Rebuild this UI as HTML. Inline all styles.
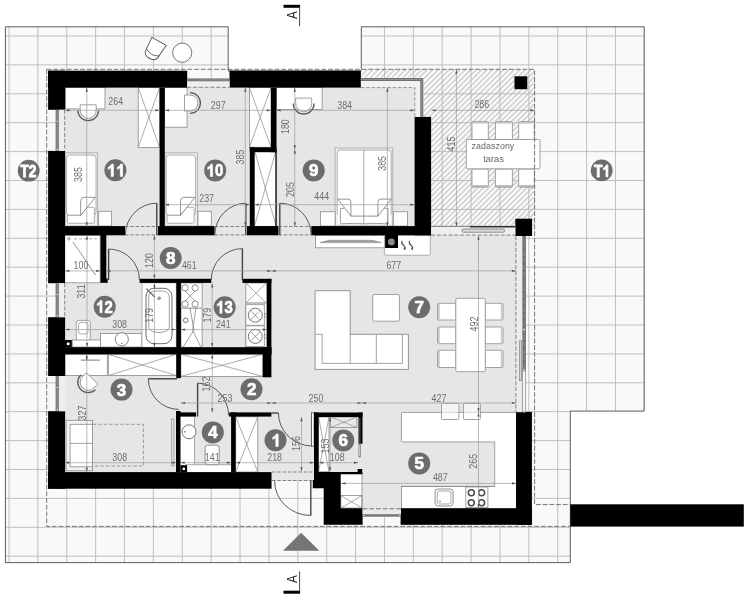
<!DOCTYPE html><html><head><meta charset="utf-8"><style>html,body{margin:0;padding:0;background:#fff}svg{display:block;filter:grayscale(1)}text{font-family:"Liberation Sans",sans-serif}</style></head><body><svg width="747" height="600" viewBox="0 0 747 600">
<defs><clipPath id="tc"><polygon points="5.4,26.8 228.2,26.8 228.2,71 361.3,71 361.3,26.8 644.2,26.8 644.2,411.1 570.3,411.1 570.3,562.6 5.4,562.6"/></clipPath>
<pattern id="hatch" width="3.85" height="3.85" patternUnits="userSpaceOnUse" patternTransform="rotate(-45)"><rect width="3.85" height="3.85" fill="#fdfdfd"/><line x1="0" y1="1" x2="3.85" y2="1" stroke="#b4b4b4" stroke-width="1.05"/></pattern>
</defs>
<polygon points="5.4,26.8 228.2,26.8 228.2,71 361.3,71 361.3,26.8 644.2,26.8 644.2,411.1 570.3,411.1 570.3,562.6 5.4,562.6" fill="#f9f9f9"/>
<g clip-path="url(#tc)">
<line x1="9.00" y1="0.00" x2="9.00" y2="600.00" stroke="#b9b9b9" stroke-width="0.9" />
<line x1="37.88" y1="0.00" x2="37.88" y2="600.00" stroke="#b9b9b9" stroke-width="0.9" />
<line x1="66.76" y1="0.00" x2="66.76" y2="600.00" stroke="#b9b9b9" stroke-width="0.9" />
<line x1="95.64" y1="0.00" x2="95.64" y2="600.00" stroke="#b9b9b9" stroke-width="0.9" />
<line x1="124.52" y1="0.00" x2="124.52" y2="600.00" stroke="#b9b9b9" stroke-width="0.9" />
<line x1="153.40" y1="0.00" x2="153.40" y2="600.00" stroke="#b9b9b9" stroke-width="0.9" />
<line x1="182.28" y1="0.00" x2="182.28" y2="600.00" stroke="#b9b9b9" stroke-width="0.9" />
<line x1="211.16" y1="0.00" x2="211.16" y2="600.00" stroke="#b9b9b9" stroke-width="0.9" />
<line x1="240.04" y1="0.00" x2="240.04" y2="600.00" stroke="#b9b9b9" stroke-width="0.9" />
<line x1="268.92" y1="0.00" x2="268.92" y2="600.00" stroke="#b9b9b9" stroke-width="0.9" />
<line x1="297.80" y1="0.00" x2="297.80" y2="600.00" stroke="#b9b9b9" stroke-width="0.9" />
<line x1="326.68" y1="0.00" x2="326.68" y2="600.00" stroke="#b9b9b9" stroke-width="0.9" />
<line x1="355.56" y1="0.00" x2="355.56" y2="600.00" stroke="#b9b9b9" stroke-width="0.9" />
<line x1="384.44" y1="0.00" x2="384.44" y2="600.00" stroke="#b9b9b9" stroke-width="0.9" />
<line x1="413.32" y1="0.00" x2="413.32" y2="600.00" stroke="#b9b9b9" stroke-width="0.9" />
<line x1="442.20" y1="0.00" x2="442.20" y2="600.00" stroke="#b9b9b9" stroke-width="0.9" />
<line x1="471.08" y1="0.00" x2="471.08" y2="600.00" stroke="#b9b9b9" stroke-width="0.9" />
<line x1="499.96" y1="0.00" x2="499.96" y2="600.00" stroke="#b9b9b9" stroke-width="0.9" />
<line x1="528.84" y1="0.00" x2="528.84" y2="600.00" stroke="#b9b9b9" stroke-width="0.9" />
<line x1="557.72" y1="0.00" x2="557.72" y2="600.00" stroke="#b9b9b9" stroke-width="0.9" />
<line x1="586.60" y1="0.00" x2="586.60" y2="600.00" stroke="#b9b9b9" stroke-width="0.9" />
<line x1="615.48" y1="0.00" x2="615.48" y2="600.00" stroke="#b9b9b9" stroke-width="0.9" />
<line x1="644.36" y1="0.00" x2="644.36" y2="600.00" stroke="#b9b9b9" stroke-width="0.9" />
<line x1="0.00" y1="7.10" x2="747.00" y2="7.10" stroke="#b9b9b9" stroke-width="0.9" />
<line x1="0.00" y1="36.00" x2="747.00" y2="36.00" stroke="#b9b9b9" stroke-width="0.9" />
<line x1="0.00" y1="64.90" x2="747.00" y2="64.90" stroke="#b9b9b9" stroke-width="0.9" />
<line x1="0.00" y1="93.80" x2="747.00" y2="93.80" stroke="#b9b9b9" stroke-width="0.9" />
<line x1="0.00" y1="122.70" x2="747.00" y2="122.70" stroke="#b9b9b9" stroke-width="0.9" />
<line x1="0.00" y1="151.60" x2="747.00" y2="151.60" stroke="#b9b9b9" stroke-width="0.9" />
<line x1="0.00" y1="180.50" x2="747.00" y2="180.50" stroke="#b9b9b9" stroke-width="0.9" />
<line x1="0.00" y1="209.40" x2="747.00" y2="209.40" stroke="#b9b9b9" stroke-width="0.9" />
<line x1="0.00" y1="238.30" x2="747.00" y2="238.30" stroke="#b9b9b9" stroke-width="0.9" />
<line x1="0.00" y1="267.20" x2="747.00" y2="267.20" stroke="#b9b9b9" stroke-width="0.9" />
<line x1="0.00" y1="296.10" x2="747.00" y2="296.10" stroke="#b9b9b9" stroke-width="0.9" />
<line x1="0.00" y1="325.00" x2="747.00" y2="325.00" stroke="#b9b9b9" stroke-width="0.9" />
<line x1="0.00" y1="353.90" x2="747.00" y2="353.90" stroke="#b9b9b9" stroke-width="0.9" />
<line x1="0.00" y1="382.80" x2="747.00" y2="382.80" stroke="#b9b9b9" stroke-width="0.9" />
<line x1="0.00" y1="411.70" x2="747.00" y2="411.70" stroke="#b9b9b9" stroke-width="0.9" />
<line x1="0.00" y1="440.60" x2="747.00" y2="440.60" stroke="#b9b9b9" stroke-width="0.9" />
<line x1="0.00" y1="469.50" x2="747.00" y2="469.50" stroke="#b9b9b9" stroke-width="0.9" />
<line x1="0.00" y1="498.40" x2="747.00" y2="498.40" stroke="#b9b9b9" stroke-width="0.9" />
<line x1="0.00" y1="527.30" x2="747.00" y2="527.30" stroke="#b9b9b9" stroke-width="0.9" />
<line x1="0.00" y1="556.20" x2="747.00" y2="556.20" stroke="#b9b9b9" stroke-width="0.9" />
<line x1="0.00" y1="585.10" x2="747.00" y2="585.10" stroke="#b9b9b9" stroke-width="0.9" />
</g>
<polygon points="5.4,26.8 228.2,26.8 228.2,71 361.3,71 361.3,26.8 644.2,26.8 644.2,411.1 570.3,411.1 570.3,562.6 5.4,562.6" fill="none" stroke="#4c4c4c" stroke-width="0.9"/>
<polygon points="361.3,69 534.8,69 534.8,225.8 431,225.8 431,117 423.7,117 423.7,77.5 361.3,77.5" fill="url(#hatch)"/>
<clipPath id="hc"><polygon points="361.3,69 534.8,69 534.8,225.8 431,225.8 431,117 423.7,117 423.7,77.5 361.3,77.5"/></clipPath><g clip-path="url(#hc)">
<line x1="355.56" y1="60.00" x2="355.56" y2="230.00" stroke="#b9b9b9" stroke-width="0.9" />
<line x1="384.44" y1="60.00" x2="384.44" y2="230.00" stroke="#b9b9b9" stroke-width="0.9" />
<line x1="413.32" y1="60.00" x2="413.32" y2="230.00" stroke="#b9b9b9" stroke-width="0.9" />
<line x1="442.20" y1="60.00" x2="442.20" y2="230.00" stroke="#b9b9b9" stroke-width="0.9" />
<line x1="471.08" y1="60.00" x2="471.08" y2="230.00" stroke="#b9b9b9" stroke-width="0.9" />
<line x1="499.96" y1="60.00" x2="499.96" y2="230.00" stroke="#b9b9b9" stroke-width="0.9" />
<line x1="528.84" y1="60.00" x2="528.84" y2="230.00" stroke="#b9b9b9" stroke-width="0.9" />
<line x1="355.00" y1="64.90" x2="540.00" y2="64.90" stroke="#b9b9b9" stroke-width="0.9" />
<line x1="355.00" y1="93.80" x2="540.00" y2="93.80" stroke="#b9b9b9" stroke-width="0.9" />
<line x1="355.00" y1="122.70" x2="540.00" y2="122.70" stroke="#b9b9b9" stroke-width="0.9" />
<line x1="355.00" y1="151.60" x2="540.00" y2="151.60" stroke="#b9b9b9" stroke-width="0.9" />
<line x1="355.00" y1="180.50" x2="540.00" y2="180.50" stroke="#b9b9b9" stroke-width="0.9" />
<line x1="355.00" y1="209.40" x2="540.00" y2="209.40" stroke="#b9b9b9" stroke-width="0.9" />
</g>
<polygon points="59,81 360,81 360,78 423,78 423,117 431,117 431,226.3 515.3,226.3 515.3,235.7 524.7,235.7 524.7,412.4 532.2,412.4 532.2,525.1 401,525.1 401,514.5 362.6,514.5 362.6,525.1 324.6,525.1 324.6,481 271.5,481 271.5,488.2 59,488.2" fill="#e6e6e6"/>
<rect x="65.60" y="87.50" width="39.40" height="21.40" fill="#fff" stroke="#8a8a8a" stroke-width="0.8" />
<rect x="138.20" y="87.50" width="21.40" height="60.00" fill="#fff" stroke="#8a8a8a" stroke-width="0.8" />
<line x1="138.20" y1="87.50" x2="159.60" y2="147.50" stroke="#8a8a8a" stroke-width="0.7200000000000001" />
<line x1="138.20" y1="147.50" x2="159.60" y2="87.50" stroke="#8a8a8a" stroke-width="0.7200000000000001" />
<g transform="translate(88.20,110.30) rotate(0)">
<path d="M-10.4,0 A10.4,10.4 0 0 0 10.4,0" fill="none" stroke="#5a5a5a" stroke-width="1.3" />
<path d="M-8,-5.5 L8,-5.5 L8,0 A8,8 0 0 1 -8,0 Z" fill="#fff" stroke="#8a8a8a" stroke-width="0.8" />
</g>
<rect x="65.10" y="152.90" width="32.60" height="73.10" fill="#f1f1f1" stroke="#999" stroke-width="0.7" />
<rect x="66.40" y="155.00" width="29.60" height="60.30" rx="3" fill="#fff" stroke="#999" stroke-width="0.8"/>
<path d="M67.30,215.30 V221.80 Q67.30,223.30 68.80,223.30 H92.90 Q94.40,223.30 94.40,221.80 V208.50 Q94.40,207.30 93.20,207.30 H87.19 L80.70,215.30 Z" fill="#fff" stroke="#999" stroke-width="0.8" />
<path d="M80.70,215.30 V200.80 Q81.00,197.30 83.90,197.30 H95.30 Z" fill="#fff" stroke="#777" stroke-width="0.8" />
<rect x="98.70" y="211.30" width="12.90" height="14.70" fill="#fff" stroke="#8a8a8a" stroke-width="0.8" />
<rect x="164.70" y="87.50" width="22.40" height="39.70" fill="#fff" stroke="#8a8a8a" stroke-width="0.8" />
<g transform="translate(190.00,103.00) rotate(-90)">
<path d="M-10.4,0 A10.4,10.4 0 0 0 10.4,0" fill="none" stroke="#5a5a5a" stroke-width="1.3" />
<path d="M-8,-5.5 L8,-5.5 L8,0 A8,8 0 0 1 -8,0 Z" fill="#fff" stroke="#8a8a8a" stroke-width="0.8" />
</g>
<rect x="249.40" y="87.50" width="21.60" height="59.80" fill="#fff" stroke="#8a8a8a" stroke-width="0.8" />
<line x1="249.40" y1="87.50" x2="271.00" y2="147.30" stroke="#8a8a8a" stroke-width="0.7200000000000001" />
<line x1="249.40" y1="147.30" x2="271.00" y2="87.50" stroke="#8a8a8a" stroke-width="0.7200000000000001" />
<rect x="254.40" y="150.00" width="21.80" height="76.30" fill="#fff" stroke="#8a8a8a" stroke-width="0.8" />
<line x1="254.40" y1="150.00" x2="276.20" y2="226.30" stroke="#8a8a8a" stroke-width="0.7200000000000001" />
<line x1="254.40" y1="226.30" x2="276.20" y2="150.00" stroke="#8a8a8a" stroke-width="0.7200000000000001" />
<rect x="164.90" y="152.90" width="32.40" height="73.10" fill="#f1f1f1" stroke="#999" stroke-width="0.7" />
<rect x="166.20" y="155.00" width="29.40" height="60.30" rx="3" fill="#fff" stroke="#999" stroke-width="0.8"/>
<path d="M167.10,215.30 V221.80 Q167.10,223.30 168.60,223.30 H192.50 Q194.00,223.30 194.00,221.80 V208.50 Q194.00,207.30 192.80,207.30 H186.90 L180.50,215.30 Z" fill="#fff" stroke="#999" stroke-width="0.8" />
<path d="M180.50,215.30 V200.80 Q180.80,197.30 183.70,197.30 H194.90 Z" fill="#fff" stroke="#777" stroke-width="0.8" />
<rect x="198.00" y="211.30" width="13.30" height="14.70" fill="#fff" stroke="#8a8a8a" stroke-width="0.8" />
<rect x="276.50" y="87.50" width="45.60" height="22.10" fill="#fff" stroke="#8a8a8a" stroke-width="0.8" />
<g transform="translate(303.70,103.60) rotate(0)">
<path d="M-10.4,0 A10.4,10.4 0 0 0 10.4,0" fill="none" stroke="#5a5a5a" stroke-width="1.3" />
<path d="M-8,-5.5 L8,-5.5 L8,0 A8,8 0 0 1 -8,0 Z" fill="#fff" stroke="#8a8a8a" stroke-width="0.8" />
</g>
<rect x="335.10" y="148.00" width="57.70" height="77.80" fill="#f1f1f1" stroke="#999" stroke-width="0.7" />
<rect x="337.20" y="150.00" width="54.00" height="66.10" rx="3" fill="#fff" stroke="#999" stroke-width="0.8"/>
<rect x="337.60" y="214.00" width="53.20" height="10.00" fill="#fff" />
<line x1="363.80" y1="150.00" x2="363.80" y2="224.00" stroke="#999" stroke-width="0.8" />
<path d="M340.4,216.1 V208.4 H344 M340.4,216.1 V222.5 Q340.4,223.8 341.8,223.8 Q352,222.9 363.8,223.8 Q376,222.9 386.6,223.8 Q388,223.8 388,222.5 V208.4 H384.5" fill="none" stroke="#888" stroke-width="0.8" />
<path d="M337.8,199.1 H347.9 Q350.9,199.1 350.9,202.3 V216.1 Z" fill="#fff" stroke="#777" stroke-width="0.8" />
<path d="M391.3,199.1 H380.9 Q377.9,199.1 377.9,202.3 V216.1 Z" fill="#fff" stroke="#777" stroke-width="0.8" />
<line x1="350.90" y1="216.10" x2="377.90" y2="216.10" stroke="#777" stroke-width="0.8" />
<rect x="320.40" y="211.80" width="14.70" height="14.20" fill="#fff" stroke="#8a8a8a" stroke-width="0.8" />
<rect x="393.30" y="211.80" width="14.10" height="14.20" fill="#fff" stroke="#8a8a8a" stroke-width="0.8" />
<rect x="315.50" y="235.30" width="69.50" height="12.50" fill="#fff" stroke="#8a8a8a" stroke-width="0.8" />
<path d="M320,242.6 L381.5,242.6 L372.5,240.3 L329,240.3 Z" fill="#a0a0a0" stroke="#777" stroke-width="0.5" />
<path d="M384.4,235 L430.3,235 L430.3,253.7 Q430.3,255.2 428.8,255.2 L385.9,255.2 Q384.4,255.2 384.4,253.7 Z" fill="#fff" stroke="#999" stroke-width="0.8"/>
<rect x="385.10" y="234.80" width="12.90" height="13.20" fill="#000" />
<circle cx="391.4" cy="241.9" r="3.4" fill="#8a8a8a"/>
<path d="M401.8,241.4 q-0.6,2 1.5,3.6 q2,1.6 1.5,4.2" fill="none" stroke="#555" stroke-width="1.3" stroke-linecap="round"/>
<path d="M404.90000000000003,250.2 l-1.6,-2.2 l2.4,-0.4 z" fill="#555" stroke="none" stroke-width="1" />
<path d="M409.4,241.4 q-0.6,2 1.5,3.6 q2,1.6 1.5,4.2" fill="none" stroke="#555" stroke-width="1.3" stroke-linecap="round"/>
<path d="M412.5,250.2 l-1.6,-2.2 l2.4,-0.4 z" fill="#555" stroke="none" stroke-width="1" />
<path d="M315.1,290.7 L350.2,290.7 L350.2,334.3 L408.4,334.3 L408.4,369.4 L315.1,369.4 Z" fill="#fff" stroke="#8a8a8a" stroke-width="0.9" />
<path d="M315.1,334.3 L322.1,334.3 L322.1,363.4 L402.4,363.4 L402.4,334.3" fill="none" stroke="#8a8a8a" stroke-width="0.8" />
<line x1="350.20" y1="334.30" x2="350.20" y2="363.40" stroke="#8a8a8a" stroke-width="0.8" />
<line x1="376.30" y1="334.30" x2="376.30" y2="363.40" stroke="#8a8a8a" stroke-width="0.8" />
<rect x="372.70" y="294.50" width="26.70" height="26.70" rx="1.5" fill="#fff" stroke="#8a8a8a" stroke-width="0.8"/>
<rect x="437.50" y="303.30" width="18.50" height="16.70" rx="1.2" fill="#fff" stroke="#8a8a8a" stroke-width="0.8"/>
<rect x="437.90" y="303.80" width="1.80" height="15.70" fill="#c8c8c8" />
<rect x="485.00" y="303.30" width="18.00" height="16.70" rx="1.2" fill="#fff" stroke="#8a8a8a" stroke-width="0.8"/>
<rect x="500.80" y="303.80" width="1.80" height="15.70" fill="#c8c8c8" />
<rect x="437.50" y="327.00" width="18.50" height="16.70" rx="1.2" fill="#fff" stroke="#8a8a8a" stroke-width="0.8"/>
<rect x="437.90" y="327.50" width="1.80" height="15.70" fill="#c8c8c8" />
<rect x="485.00" y="327.00" width="18.00" height="16.70" rx="1.2" fill="#fff" stroke="#8a8a8a" stroke-width="0.8"/>
<rect x="500.80" y="327.50" width="1.80" height="15.70" fill="#c8c8c8" />
<rect x="437.50" y="350.30" width="18.50" height="17.20" rx="1.2" fill="#fff" stroke="#8a8a8a" stroke-width="0.8"/>
<rect x="437.90" y="350.80" width="1.80" height="16.20" fill="#c8c8c8" />
<rect x="485.00" y="350.30" width="18.00" height="17.20" rx="1.2" fill="#fff" stroke="#8a8a8a" stroke-width="0.8"/>
<rect x="500.80" y="350.80" width="1.80" height="16.20" fill="#c8c8c8" />
<rect x="455.80" y="298.30" width="29.50" height="73.40" rx="1.5" fill="#fff" stroke="#8a8a8a" stroke-width="0.8"/>
<rect x="472.00" y="121.60" width="16.30" height="18.40" rx="1.2" fill="#fff" stroke="#8a8a8a" stroke-width="0.8"/>
<rect x="472.50" y="121.90" width="15.30" height="1.70" fill="#c4c4c4" />
<rect x="472.00" y="169.00" width="16.30" height="18.20" rx="1.2" fill="#fff" stroke="#8a8a8a" stroke-width="0.8"/>
<rect x="472.50" y="185.20" width="15.30" height="1.70" fill="#b0b0b0" />
<rect x="495.40" y="121.60" width="17.00" height="18.40" rx="1.2" fill="#fff" stroke="#8a8a8a" stroke-width="0.8"/>
<rect x="495.90" y="121.90" width="16.00" height="1.70" fill="#c4c4c4" />
<rect x="495.40" y="169.00" width="17.00" height="18.20" rx="1.2" fill="#fff" stroke="#8a8a8a" stroke-width="0.8"/>
<rect x="495.90" y="185.20" width="16.00" height="1.70" fill="#b0b0b0" />
<rect x="518.70" y="121.60" width="15.60" height="18.40" rx="1.2" fill="#fff" stroke="#8a8a8a" stroke-width="0.8"/>
<rect x="519.20" y="121.90" width="14.60" height="1.70" fill="#c4c4c4" />
<rect x="518.70" y="169.00" width="15.60" height="18.20" rx="1.2" fill="#fff" stroke="#8a8a8a" stroke-width="0.8"/>
<rect x="519.20" y="185.20" width="14.60" height="1.70" fill="#b0b0b0" />
<rect x="466.30" y="139.50" width="73.70" height="29.30" rx="1.5" fill="#fff" stroke="#8a8a8a" stroke-width="0.8"/>
<rect x="401.40" y="412.40" width="115.60" height="29.50" rx="1.2" fill="#fff" stroke="#8a8a8a" stroke-width="0.8"/>
<rect x="494.70" y="441.60" width="21.30" height="44.80" fill="#fff" />
<rect x="401.40" y="486.40" width="115.60" height="22.10" fill="#fff" stroke="#8a8a8a" stroke-width="0.8" />
<rect x="494.70" y="430.00" width="21.30" height="70.00" fill="#fff" />
<line x1="494.70" y1="441.90" x2="494.70" y2="486.40" stroke="#8a8a8a" stroke-width="0.8" />
<line x1="401.40" y1="486.40" x2="494.70" y2="486.40" stroke="#8a8a8a" stroke-width="0.8" />
<rect x="441.50" y="403.30" width="17.40" height="16.20" rx="1" fill="rgba(255,255,255,0.6)" stroke="#8a8a8a" stroke-width="0.8"/>
<rect x="463.40" y="403.30" width="17.00" height="16.20" rx="1" fill="rgba(255,255,255,0.6)" stroke="#8a8a8a" stroke-width="0.8"/>
<rect x="435.10" y="489.00" width="18.00" height="17.00" rx="3" fill="#fff" stroke="#777" stroke-width="0.8"/>
<rect x="437.30" y="491.00" width="13.70" height="13.00" rx="2" fill="#fff" stroke="#888" stroke-width="0.7"/>
<circle cx="440" cy="501.4" r="0.8" fill="#777"/>
<rect x="465.80" y="487.00" width="22.10" height="20.40" fill="#fff" stroke="#8a8a8a" stroke-width="0.8" />
<circle cx="471.3" cy="492.8" r="3.0" fill="#fff" stroke="#4a4a4a" stroke-width="1.5"/>
<circle cx="471.3" cy="502.8" r="3.0" fill="#fff" stroke="#4a4a4a" stroke-width="1.5"/>
<circle cx="481.6" cy="492.8" r="3.0" fill="#fff" stroke="#4a4a4a" stroke-width="1.5"/>
<circle cx="481.6" cy="502.8" r="3.0" fill="#fff" stroke="#4a4a4a" stroke-width="1.5"/>
<rect x="64.40" y="235.30" width="35.80" height="47.50" fill="#fff" stroke="#8a8a8a" stroke-width="0.8" />
<circle cx="69" cy="238.8" r="1.2" fill="#fff" stroke="#666" stroke-width="0.7"/>
<line x1="73.00" y1="242.00" x2="95.70" y2="275.20" stroke="#777" stroke-width="0.8" />
<line x1="74.00" y1="238.80" x2="97.00" y2="238.80" stroke="#888" stroke-width="0.7" stroke-dasharray="3 2"/>
<rect x="76.30" y="320.40" width="14.00" height="20.10" rx="2.5" fill="#fff" stroke="#8a8a8a" stroke-width="0.8"/>
<rect x="78.60" y="322.50" width="9.40" height="11.50" rx="2" fill="#fff" stroke="#8a8a8a" stroke-width="0.7"/>
<rect x="72.30" y="340.00" width="28.10" height="7.00" fill="#fff" stroke="#8a8a8a" stroke-width="0.8" />
<rect x="100.40" y="333.50" width="41.50" height="13.50" fill="#fff" stroke="#8a8a8a" stroke-width="0.8" />
<circle cx="121.8" cy="339.3" r="6.6" fill="#fff" stroke="#777" stroke-width="0.9"/>
<circle cx="121.8" cy="343.5" r="0.8" fill="#777"/>
<rect x="142.00" y="282.90" width="34.20" height="64.30" fill="#fff" stroke="#999" stroke-width="0.7" />
<rect x="146.00" y="288.30" width="26.00" height="55.40" rx="8" fill="#fff" stroke="#6a6a6a" stroke-width="1"/>
<path d="M148.7,326 V298 Q148.7,291 155.7,291 H162.3 Q169.3,291 169.3,298 V326 Q169.3,330 165,331.6 Q159,333.6 153,331.6 Q148.7,330 148.7,326 Z" fill="#fff" stroke="#8a8a8a" stroke-width="0.8" />
<line x1="146.90" y1="289.20" x2="154.50" y2="296.80" stroke="#777" stroke-width="1.6" stroke-linecap="round"/>
<circle cx="159.1" cy="298.3" r="1.4" fill="#aaa" stroke="#666" stroke-width="0.6"/>
<rect x="181.00" y="283.00" width="21.10" height="25.20" fill="#fff" stroke="#8a8a8a" stroke-width="0.8" />
<circle cx="185.1" cy="287.9" r="3.1" fill="#fff" stroke="#777" stroke-width="0.8"/>
<circle cx="185.1" cy="304" r="3.1" fill="#fff" stroke="#777" stroke-width="0.8"/>
<circle cx="195.1" cy="287.9" r="3.1" fill="#fff" stroke="#777" stroke-width="0.8"/>
<circle cx="195.1" cy="304" r="3.1" fill="#fff" stroke="#777" stroke-width="0.8"/>
<line x1="185.10" y1="291.00" x2="195.10" y2="301.00" stroke="#777" stroke-width="0.7" />
<line x1="195.10" y1="291.00" x2="185.10" y2="301.00" stroke="#777" stroke-width="0.7" />
<rect x="181.00" y="308.20" width="21.10" height="39.10" fill="#fff" stroke="#8a8a8a" stroke-width="0.8" />
<circle cx="185.7" cy="320.3" r="2.3" fill="#fff" stroke="#666" stroke-width="0.9"/>
<path d="M190,308.2 L194,330 L183,347.3 M196,308.2 L192.5,330 L201,347.3" fill="none" stroke="#777" stroke-width="0.7" />
<rect x="245.90" y="283.00" width="20.50" height="20.10" fill="#fff" stroke="#8a8a8a" stroke-width="0.8" />
<line x1="245.90" y1="283.00" x2="266.40" y2="303.10" stroke="#8a8a8a" stroke-width="0.7200000000000001" />
<line x1="245.90" y1="303.10" x2="266.40" y2="283.00" stroke="#8a8a8a" stroke-width="0.7200000000000001" />
<rect x="245.90" y="303.10" width="20.50" height="44.20" fill="#fff" stroke="#8a8a8a" stroke-width="0.8" />
<rect x="245.90" y="304.70" width="18.40" height="20.50" fill="#fff" stroke="#8a8a8a" stroke-width="0.8" />
<circle cx="255.3" cy="315.2" r="7" fill="#fff" stroke="#666" stroke-width="0.9"/>
<line x1="250.40" y1="310.30" x2="260.20" y2="320.10" stroke="#777" stroke-width="0.7" />
<line x1="260.20" y1="310.30" x2="250.40" y2="320.10" stroke="#777" stroke-width="0.7" />
<rect x="264.30" y="313.20" width="2.10" height="4.00" fill="#ddd" stroke="#777" stroke-width="0.5" />
<rect x="245.90" y="325.90" width="18.40" height="20.50" fill="#fff" stroke="#8a8a8a" stroke-width="0.8" />
<circle cx="255.3" cy="336.4" r="7" fill="#fff" stroke="#666" stroke-width="0.9"/>
<line x1="250.40" y1="331.50" x2="260.20" y2="341.30" stroke="#777" stroke-width="0.7" />
<line x1="260.20" y1="331.50" x2="250.40" y2="341.30" stroke="#777" stroke-width="0.7" />
<rect x="264.30" y="334.40" width="2.10" height="4.00" fill="#ddd" stroke="#777" stroke-width="0.5" />
<rect x="65.00" y="354.30" width="42.30" height="21.30" fill="#fff" stroke="#8a8a8a" stroke-width="0.8" />
<line x1="81.00" y1="360.10" x2="99.80" y2="360.10" stroke="#666" stroke-width="0.9" />
<line x1="86.70" y1="355.50" x2="86.70" y2="360.10" stroke="#555" stroke-width="1.1" />
<rect x="108.30" y="354.30" width="68.10" height="21.30" fill="#fff" stroke="#8a8a8a" stroke-width="0.8" />
<line x1="108.30" y1="354.30" x2="176.40" y2="375.60" stroke="#8a8a8a" stroke-width="0.7200000000000001" />
<line x1="108.30" y1="375.60" x2="176.40" y2="354.30" stroke="#8a8a8a" stroke-width="0.7200000000000001" />
<g transform="translate(88.20,382.30) rotate(45)">
<path d="M-10.4,0 A10.4,10.4 0 0 0 10.4,0" fill="none" stroke="#5a5a5a" stroke-width="1.3" />
<path d="M-8,-5.5 L8,-5.5 L8,0 A8,8 0 0 1 -8,0 Z" fill="#fff" stroke="#8a8a8a" stroke-width="0.8" />
</g>
<rect x="66.10" y="420.30" width="26.50" height="50.50" fill="#f2f2f2" stroke="#8a8a8a" stroke-width="0.8" />
<rect x="70.10" y="424.30" width="22.50" height="42.50" fill="#fff" stroke="#8a8a8a" stroke-width="0.8" />
<line x1="70.10" y1="443.40" x2="92.60" y2="443.40" stroke="#8a8a8a" stroke-width="0.8" />
<path d="M92.6,424.3 L143.4,424.3 L143.4,466 L92.6,466" fill="none" stroke="#888" stroke-width="0.8" stroke-dasharray="3.5 2"/>
<rect x="171.60" y="419.00" width="2.40" height="47.00" fill="#ddd" stroke="#888" stroke-width="0.6" />
<rect x="180.40" y="416.50" width="14.10" height="55.50" fill="#fff" />
<line x1="194.50" y1="416.50" x2="194.50" y2="464.70" stroke="#8a8a8a" stroke-width="0.7" />
<rect x="180.40" y="464.70" width="50.80" height="7.30" fill="#fff" />
<line x1="185.00" y1="464.70" x2="231.20" y2="464.70" stroke="#8a8a8a" stroke-width="0.7" />
<circle cx="189" cy="431.8" r="7" fill="#fff" stroke="#666" stroke-width="0.9"/>
<circle cx="185" cy="431.8" r="0.8" fill="#666"/>
<rect x="205.10" y="445.20" width="14.10" height="19.50" rx="2.5" fill="#fff" stroke="#777" stroke-width="0.8"/>
<rect x="180.50" y="465.20" width="6.60" height="7.00" fill="#000" />
<circle cx="183.8" cy="468.8" r="1.4" fill="#fff"/>
<rect x="235.70" y="416.80" width="22.10" height="55.20" fill="#fff" stroke="#8a8a8a" stroke-width="0.8" />
<line x1="235.70" y1="416.80" x2="257.80" y2="472.00" stroke="#8a8a8a" stroke-width="0.7200000000000001" />
<line x1="235.70" y1="472.00" x2="257.80" y2="416.80" stroke="#8a8a8a" stroke-width="0.7200000000000001" />
<rect x="318.60" y="417.00" width="10.40" height="54.80" fill="#fff" stroke="#8a8a8a" stroke-width="0.8" />
<line x1="318.60" y1="417.00" x2="329.00" y2="471.80" stroke="#8a8a8a" stroke-width="0.7200000000000001" />
<line x1="318.60" y1="471.80" x2="329.00" y2="417.00" stroke="#8a8a8a" stroke-width="0.7200000000000001" />
<rect x="330.50" y="417.00" width="26.40" height="10.50" fill="#e9e9e9" stroke="#8a8a8a" stroke-width="0.8" />
<line x1="330.50" y1="417.00" x2="356.90" y2="427.50" stroke="#8a8a8a" stroke-width="0.7" />
<line x1="330.50" y1="427.50" x2="356.90" y2="417.00" stroke="#8a8a8a" stroke-width="0.7" />
<rect x="340.60" y="474.30" width="21.40" height="34.10" fill="#fff" />
<rect x="340.90" y="495.50" width="21.10" height="12.50" fill="#fff" stroke="#8a8a8a" stroke-width="0.8" />
<line x1="340.90" y1="495.50" x2="362.00" y2="508.00" stroke="#8a8a8a" stroke-width="0.7200000000000001" />
<line x1="340.90" y1="508.00" x2="362.00" y2="495.50" stroke="#8a8a8a" stroke-width="0.7200000000000001" />
<circle cx="182.2" cy="52.7" r="9.6" fill="#fff" stroke="#555" stroke-width="0.8"/>
<g transform="translate(154.3,49.6) rotate(30)">
<path d="M-8.2,-9.5 L8.2,-9.5 L7,5.5 Q6,10 0,10 Q-6,10 -7,5.5 Z" fill="#fff" stroke="#555" stroke-width="0.9" />
<path d="M-7.3,3 Q0,8 7.3,3" fill="none" stroke="#555" stroke-width="0.8" />
</g>
<rect x="180.90" y="354.30" width="81.90" height="22.10" fill="#fff" stroke="#8a8a8a" stroke-width="0.8" />
<line x1="180.90" y1="354.30" x2="262.80" y2="376.40" stroke="#8a8a8a" stroke-width="0.7200000000000001" />
<line x1="180.90" y1="376.40" x2="262.80" y2="354.30" stroke="#8a8a8a" stroke-width="0.7200000000000001" />
<rect x="64.80" y="340.00" width="7.00" height="7.40" fill="#000" />
<circle cx="68.2" cy="343.7" r="1.5" fill="#fff"/>
<rect x="48.10" y="70.70" width="139.10" height="16.90" fill="#000" />
<rect x="229.50" y="70.70" width="131.40" height="16.90" fill="#000" />
<rect x="48.10" y="70.70" width="17.00" height="39.10" fill="#000" />
<rect x="48.10" y="150.90" width="17.00" height="132.30" fill="#000" />
<rect x="48.10" y="317.20" width="17.00" height="58.80" fill="#000" />
<rect x="48.10" y="411.20" width="17.00" height="77.50" fill="#000" />
<rect x="48.10" y="472.10" width="223.40" height="16.60" fill="#000" />
<path d="M314,472 L362.4,472 L362.4,474.3 L340.7,474.3 L340.7,508.3 L362.6,508.3 L362.6,524.7 L323.7,524.7 L323.7,488.3 L312.8,488.3 L312.8,480 L314,480 Z" fill="#000" stroke="none" stroke-width="1" />
<line x1="362.00" y1="474.00" x2="362.00" y2="508.60" stroke="#888" stroke-width="0.8" />
<rect x="400.60" y="508.30" width="131.30" height="16.50" fill="#000" />
<rect x="516.00" y="411.90" width="15.90" height="112.90" fill="#000" />
<rect x="414.60" y="116.90" width="16.50" height="118.40" fill="#000" />
<rect x="515.30" y="218.70" width="16.80" height="17.30" fill="#000" />
<rect x="514.50" y="76.30" width="12.80" height="12.90" fill="#000" />
<rect x="570.30" y="504.30" width="173.50" height="22.30" fill="#000" />
<rect x="65.00" y="226.10" width="60.00" height="9.20" fill="#000" />
<rect x="158.00" y="226.10" width="56.60" height="9.20" fill="#000" />
<rect x="247.00" y="226.10" width="31.50" height="9.20" fill="#000" />
<rect x="311.30" y="226.10" width="119.80" height="9.20" fill="#000" />
<rect x="159.60" y="87.50" width="5.20" height="139.00" fill="#000" />
<rect x="271.00" y="87.50" width="5.50" height="64.70" fill="#000" />
<rect x="249.80" y="147.30" width="26.70" height="4.90" fill="#000" />
<rect x="249.80" y="147.30" width="4.70" height="79.20" fill="#000" />
<rect x="100.50" y="235.00" width="5.80" height="47.80" fill="#000" />
<rect x="106.00" y="278.60" width="1.70" height="4.20" fill="#000" />
<rect x="139.60" y="278.80" width="71.70" height="4.10" fill="#000" />
<rect x="242.40" y="278.80" width="29.00" height="4.10" fill="#000" />
<rect x="267.00" y="278.90" width="4.40" height="75.40" fill="#000" />
<rect x="262.80" y="347.30" width="8.60" height="30.00" fill="#000" />
<rect x="176.30" y="279.00" width="4.60" height="99.20" fill="#000" />
<rect x="65.00" y="347.20" width="206.40" height="7.10" fill="#000" />
<rect x="176.00" y="411.00" width="4.50" height="61.30" fill="#000" />
<rect x="176.00" y="412.40" width="20.10" height="4.20" fill="#000" />
<rect x="229.20" y="412.40" width="42.20" height="4.20" fill="#000" />
<rect x="231.10" y="412.40" width="4.60" height="59.90" fill="#000" />
<rect x="314.00" y="412.50" width="48.50" height="4.50" fill="#000" />
<rect x="311.40" y="412.80" width="2.70" height="33.40" fill="#fff" stroke="#444" stroke-width="0.8" />
<rect x="314.00" y="412.50" width="4.60" height="60.00" fill="#000" />
<rect x="358.50" y="412.50" width="4.00" height="31.30" fill="#000" />
<line x1="359.90" y1="418.00" x2="359.90" y2="443.50" stroke="#aaa" stroke-width="0.6" />
<rect x="357.60" y="469.00" width="4.60" height="4.80" fill="#000" />
<rect x="275.40" y="152.00" width="1.20" height="74.50" fill="#000" />
<rect x="59.00" y="109.80" width="6.10" height="41.10" fill="#eeeeee" />
<rect x="55.60" y="109.80" width="3.30" height="41.10" fill="#7a7a7a" />
<line x1="57.25" y1="110.80" x2="57.25" y2="149.90" stroke="#9a9a9a" stroke-width="0.6" />
<circle cx="57.3" cy="121.3" r="1.1" fill="#eee" stroke="#555" stroke-width="0.5"/>
<circle cx="57.3" cy="149.4" r="1.1" fill="#eee" stroke="#555" stroke-width="0.5"/>
<line x1="64.70" y1="109.80" x2="64.70" y2="150.90" stroke="#777" stroke-width="0.9" stroke-dasharray="4 1.8"/>
<rect x="59.00" y="283.20" width="6.10" height="34.00" fill="#eeeeee" />
<rect x="55.60" y="283.20" width="3.30" height="34.00" fill="#7a7a7a" />
<line x1="57.25" y1="284.20" x2="57.25" y2="316.20" stroke="#9a9a9a" stroke-width="0.6" />
<circle cx="57.3" cy="294.7" r="1.1" fill="#eee" stroke="#555" stroke-width="0.5"/>
<circle cx="57.3" cy="315.7" r="1.1" fill="#eee" stroke="#555" stroke-width="0.5"/>
<line x1="64.70" y1="283.20" x2="64.70" y2="317.20" stroke="#777" stroke-width="0.9" stroke-dasharray="4 1.8"/>
<rect x="59.00" y="376.00" width="6.10" height="35.20" fill="#eeeeee" />
<rect x="55.60" y="376.00" width="3.30" height="35.20" fill="#7a7a7a" />
<line x1="57.25" y1="377.00" x2="57.25" y2="410.20" stroke="#9a9a9a" stroke-width="0.6" />
<circle cx="57.3" cy="387.5" r="1.1" fill="#eee" stroke="#555" stroke-width="0.5"/>
<circle cx="57.3" cy="409.7" r="1.1" fill="#eee" stroke="#555" stroke-width="0.5"/>
<rect x="187.20" y="81.00" width="42.30" height="6.60" fill="#eeeeee" />
<rect x="187.20" y="78.40" width="42.30" height="2.90" fill="#7a7a7a" />
<line x1="198.00" y1="79.85" x2="228.50" y2="79.85" stroke="#9a9a9a" stroke-width="0.6" />
<line x1="187.20" y1="87.30" x2="229.50" y2="87.30" stroke="#777" stroke-width="0.9" stroke-dasharray="4 1.8"/>
<path d="M360.9,78 L423.5,78 L423.5,116.9 L414.6,116.9 L414.6,87.6 L360.9,87.6 Z" fill="#f1f1f1" stroke="none" stroke-width="1" />
<path d="M360.9,79.5 L421.8,79.5 L421.8,116.9" fill="none" stroke="#707070" stroke-width="3" />
<path d="M360.9,79.5 L421.8,79.5 L421.8,116.9" fill="none" stroke="#aaa" stroke-width="0.6" />
<path d="M360.9,87.6 L414.8,87.6 L414.8,116.9" fill="none" stroke="#777" stroke-width="0.8" stroke-dasharray="3.5 1.8"/>
<rect x="431.10" y="225.80" width="84.20" height="9.50" fill="#eeeeee" />
<line x1="431.10" y1="226.30" x2="515.30" y2="226.30" stroke="#666" stroke-width="0.9" />
<line x1="470.00" y1="226.70" x2="515.30" y2="226.70" stroke="#333" stroke-width="1.5" />
<rect x="462" y="229" width="42.5" height="3.2" rx="1.4" fill="#dcdcdc" stroke="#666" stroke-width="0.7"/>
<line x1="431.10" y1="235.10" x2="515.30" y2="235.10" stroke="#777" stroke-width="0.9" stroke-dasharray="4 1.8"/>
<rect x="516.00" y="236.00" width="10.00" height="176.20" fill="#ebebeb" />
<rect x="522.40" y="236.00" width="3.50" height="134.50" fill="#6e6e6e" />
<line x1="524.15" y1="237.00" x2="524.15" y2="370.00" stroke="#999" stroke-width="0.7" stroke-dasharray="5 2"/>
<rect x="522.60" y="370.50" width="3.10" height="41.50" fill="#f4f4f4" stroke="#888" stroke-width="0.7" />
<circle cx="524.1" cy="329.5" r="1.2" fill="#eee" stroke="#555" stroke-width="0.5"/>
<circle cx="524.1" cy="370" r="1.2" fill="#eee" stroke="#555" stroke-width="0.5"/>
<rect x="519.30" y="340.80" width="2.40" height="40.00" fill="#d4d4d4" stroke="#777" stroke-width="0.6" />
<line x1="515.90" y1="236.30" x2="515.90" y2="412.20" stroke="#777" stroke-width="0.9" stroke-dasharray="4 1.8"/>
<rect x="362.60" y="508.30" width="38.40" height="6.20" fill="#ebebeb" />
<rect x="362.60" y="514.30" width="38.40" height="2.40" fill="#666" />
<line x1="364.00" y1="516.20" x2="400.00" y2="516.20" stroke="#aaa" stroke-width="0.7" />
<circle cx="363.9" cy="515.6" r="1.1" fill="#eee" stroke="#555" stroke-width="0.5"/>
<circle cx="399.8" cy="515.6" r="1.1" fill="#eee" stroke="#555" stroke-width="0.5"/>
<line x1="362.60" y1="508.80" x2="401.00" y2="508.80" stroke="#666" stroke-width="0.9" stroke-dasharray="4.8 1.9"/>
<path d="M46.7,69.3 L534.6,69.3 L534.6,504.6 L570.3,504.6" fill="none" stroke="#666" stroke-width="0.9" stroke-dasharray="4.8 1.9"/>
<path d="M46.7,69.3 L46.7,526.4 L570.3,526.4" fill="none" stroke="#666" stroke-width="0.9" stroke-dasharray="4.8 1.9"/>
<line x1="156.80" y1="203.20" x2="156.80" y2="235.30" stroke="#444" stroke-width="1.4" />
<path d="M156.8,203.2 A31.6,32 0 0 0 125.3,235.2" fill="none" stroke="#4a4a4a" stroke-width="0.9" />
<line x1="125.00" y1="226.50" x2="158.00" y2="226.50" stroke="#666" stroke-width="0.8" stroke-dasharray="3.5 1.8"/>
<line x1="125.00" y1="234.90" x2="158.00" y2="234.90" stroke="#666" stroke-width="0.8" stroke-dasharray="3.5 1.8"/>
<line x1="245.80" y1="203.20" x2="245.80" y2="235.30" stroke="#444" stroke-width="1.4" />
<path d="M245.8,203.2 A31.4,32 0 0 0 214.8,235.2" fill="none" stroke="#4a4a4a" stroke-width="0.9" />
<line x1="214.60" y1="226.50" x2="247.00" y2="226.50" stroke="#666" stroke-width="0.8" stroke-dasharray="3.5 1.8"/>
<line x1="214.60" y1="234.90" x2="247.00" y2="234.90" stroke="#666" stroke-width="0.8" stroke-dasharray="3.5 1.8"/>
<line x1="279.80" y1="203.20" x2="279.80" y2="235.30" stroke="#444" stroke-width="1.4" />
<path d="M279.8,203.2 A31.4,32 0 0 1 311.2,235.2" fill="none" stroke="#4a4a4a" stroke-width="0.9" />
<line x1="278.50" y1="226.50" x2="311.30" y2="226.50" stroke="#666" stroke-width="0.8" stroke-dasharray="3.5 1.8"/>
<line x1="278.50" y1="234.90" x2="311.30" y2="234.90" stroke="#666" stroke-width="0.8" stroke-dasharray="3.5 1.8"/>
<line x1="108.60" y1="249.00" x2="108.60" y2="280.00" stroke="#444" stroke-width="1.4" />
<path d="M108.6,249 A30.8,30.8 0 0 1 139.4,279.8" fill="none" stroke="#4a4a4a" stroke-width="0.9" />
<line x1="242.40" y1="248.60" x2="242.40" y2="280.00" stroke="#444" stroke-width="1.4" />
<path d="M242.4,248.6 A31.2,31.4 0 0 0 211.2,280" fill="none" stroke="#4a4a4a" stroke-width="0.9" />
<line x1="148.30" y1="378.80" x2="177.00" y2="378.80" stroke="#444" stroke-width="1.4" />
<path d="M148.3,378.8 A30.5,30.6 0 0 0 178.8,409.4" fill="none" stroke="#4a4a4a" stroke-width="0.9" />
<line x1="197.60" y1="383.10" x2="197.60" y2="416.60" stroke="#444" stroke-width="1.4" />
<path d="M197.6,383.1 A31.2,32.4 0 0 1 228.6,415.5" fill="none" stroke="#4a4a4a" stroke-width="0.9" />
<line x1="271.40" y1="413.00" x2="278.40" y2="413.00" stroke="#444" stroke-width="1.4" />
<path d="M278.4,413 A34,33 0 0 0 311.4,446" fill="none" stroke="#4a4a4a" stroke-width="0.9" />
<line x1="310.80" y1="480.50" x2="310.80" y2="515.50" stroke="#444" stroke-width="1.4" />
<path d="M274.6,481 A36.2,34.5 0 0 0 310.8,515.5" fill="none" stroke="#4a4a4a" stroke-width="0.9" />
<line x1="272.00" y1="472.00" x2="313.50" y2="472.00" stroke="#666" stroke-width="0.8" stroke-dasharray="3.5 1.8"/>
<line x1="272.00" y1="480.50" x2="313.50" y2="480.50" stroke="#666" stroke-width="0.8" stroke-dasharray="3.5 1.8"/>
<rect x="358.90" y="443.80" width="1.80" height="13.10" fill="#ddd" stroke="#666" stroke-width="0.6" />
<line x1="65.10" y1="110.30" x2="159.60" y2="110.30" stroke="#9c9c9c" stroke-width="0.7" />
<path d="M65.10,110.30 l4.2,-1.1 l0,2.2 z" fill="#555" stroke="none" stroke-width="1" />
<path d="M159.60,110.30 l-4.2,-1.1 l0,2.2 z" fill="#555" stroke="none" stroke-width="1" />
<line x1="86.80" y1="87.60" x2="86.80" y2="226.40" stroke="#9c9c9c" stroke-width="0.7" />
<path d="M86.80,87.60 l-1.1,4.2 l2.2,0 z" fill="#555" stroke="none" stroke-width="1" />
<path d="M86.80,226.40 l-1.1,-4.2 l2.2,0 z" fill="#555" stroke="none" stroke-width="1" />
<line x1="164.80" y1="110.30" x2="271.00" y2="110.30" stroke="#9c9c9c" stroke-width="0.7" />
<path d="M164.80,110.30 l4.2,-1.1 l0,2.2 z" fill="#555" stroke="none" stroke-width="1" />
<path d="M271.00,110.30 l-4.2,-1.1 l0,2.2 z" fill="#555" stroke="none" stroke-width="1" />
<line x1="245.30" y1="87.60" x2="245.30" y2="226.40" stroke="#9c9c9c" stroke-width="0.7" />
<path d="M245.30,87.60 l-1.1,4.2 l2.2,0 z" fill="#555" stroke="none" stroke-width="1" />
<path d="M245.30,226.40 l-1.1,-4.2 l2.2,0 z" fill="#555" stroke="none" stroke-width="1" />
<line x1="276.50" y1="110.30" x2="414.60" y2="110.30" stroke="#9c9c9c" stroke-width="0.7" />
<path d="M276.50,110.30 l4.2,-1.1 l0,2.2 z" fill="#555" stroke="none" stroke-width="1" />
<path d="M414.60,110.30 l-4.2,-1.1 l0,2.2 z" fill="#555" stroke="none" stroke-width="1" />
<line x1="294.80" y1="87.60" x2="294.80" y2="149.50" stroke="#9c9c9c" stroke-width="0.7" />
<path d="M294.80,87.60 l-1.1,4.2 l2.2,0 z" fill="#555" stroke="none" stroke-width="1" />
<path d="M294.80,149.50 l-1.1,-4.2 l2.2,0 z" fill="#555" stroke="none" stroke-width="1" />
<line x1="294.80" y1="149.50" x2="294.80" y2="226.40" stroke="#9c9c9c" stroke-width="0.7" />
<path d="M294.80,149.50 l-1.1,4.2 l2.2,0 z" fill="#555" stroke="none" stroke-width="1" />
<path d="M294.80,226.40 l-1.1,-4.2 l2.2,0 z" fill="#555" stroke="none" stroke-width="1" />
<line x1="387.40" y1="87.60" x2="387.40" y2="226.40" stroke="#9c9c9c" stroke-width="0.7" />
<path d="M387.40,87.60 l-1.1,4.2 l2.2,0 z" fill="#555" stroke="none" stroke-width="1" />
<path d="M387.40,226.40 l-1.1,-4.2 l2.2,0 z" fill="#555" stroke="none" stroke-width="1" />
<line x1="254.50" y1="204.70" x2="414.60" y2="204.70" stroke="#9c9c9c" stroke-width="0.7" />
<path d="M254.50,204.70 l4.2,-1.1 l0,2.2 z" fill="#555" stroke="none" stroke-width="1" />
<path d="M414.60,204.70 l-4.2,-1.1 l0,2.2 z" fill="#555" stroke="none" stroke-width="1" />
<line x1="164.80" y1="204.70" x2="249.80" y2="204.70" stroke="#9c9c9c" stroke-width="0.7" />
<path d="M164.80,204.70 l4.2,-1.1 l0,2.2 z" fill="#555" stroke="none" stroke-width="1" />
<path d="M249.80,204.70 l-4.2,-1.1 l0,2.2 z" fill="#555" stroke="none" stroke-width="1" />
<line x1="431.50" y1="110.30" x2="534.50" y2="110.30" stroke="#9c9c9c" stroke-width="0.7" />
<path d="M431.50,110.30 l4.2,-1.1 l0,2.2 z" fill="#555" stroke="none" stroke-width="1" />
<path d="M534.50,110.30 l-4.2,-1.1 l0,2.2 z" fill="#555" stroke="none" stroke-width="1" />
<line x1="456.40" y1="69.50" x2="456.40" y2="226.40" stroke="#9c9c9c" stroke-width="0.7" />
<path d="M456.40,69.50 l-1.1,4.2 l2.2,0 z" fill="#555" stroke="none" stroke-width="1" />
<path d="M456.40,226.40 l-1.1,-4.2 l2.2,0 z" fill="#555" stroke="none" stroke-width="1" />
<line x1="65.10" y1="270.90" x2="100.30" y2="270.90" stroke="#9c9c9c" stroke-width="0.7" />
<path d="M65.10,270.90 l4.2,-1.1 l0,2.2 z" fill="#555" stroke="none" stroke-width="1" />
<path d="M100.30,270.90 l-4.2,-1.1 l0,2.2 z" fill="#555" stroke="none" stroke-width="1" />
<line x1="106.30" y1="270.90" x2="271.40" y2="270.90" stroke="#9c9c9c" stroke-width="0.7" />
<path d="M106.30,270.90 l4.2,-1.1 l0,2.2 z" fill="#555" stroke="none" stroke-width="1" />
<path d="M271.40,270.90 l-4.2,-1.1 l0,2.2 z" fill="#555" stroke="none" stroke-width="1" />
<line x1="271.40" y1="270.90" x2="516.00" y2="270.90" stroke="#9c9c9c" stroke-width="0.7" />
<path d="M271.40,270.90 l4.2,-1.1 l0,2.2 z" fill="#555" stroke="none" stroke-width="1" />
<path d="M516.00,270.90 l-4.2,-1.1 l0,2.2 z" fill="#555" stroke="none" stroke-width="1" />
<line x1="154.40" y1="235.30" x2="154.40" y2="278.90" stroke="#9c9c9c" stroke-width="0.7" />
<path d="M154.40,235.30 l-1.1,4.2 l2.2,0 z" fill="#555" stroke="none" stroke-width="1" />
<path d="M154.40,278.90 l-1.1,-4.2 l2.2,0 z" fill="#555" stroke="none" stroke-width="1" />
<line x1="154.40" y1="283.20" x2="154.40" y2="347.20" stroke="#9c9c9c" stroke-width="0.7" />
<path d="M154.40,283.20 l-1.1,4.2 l2.2,0 z" fill="#555" stroke="none" stroke-width="1" />
<path d="M154.40,347.20 l-1.1,-4.2 l2.2,0 z" fill="#555" stroke="none" stroke-width="1" />
<line x1="87.00" y1="235.30" x2="87.00" y2="347.20" stroke="#9c9c9c" stroke-width="0.7" />
<path d="M87.00,235.30 l-1.1,4.2 l2.2,0 z" fill="#555" stroke="none" stroke-width="1" />
<path d="M87.00,347.20 l-1.1,-4.2 l2.2,0 z" fill="#555" stroke="none" stroke-width="1" />
<line x1="65.10" y1="329.50" x2="176.20" y2="329.50" stroke="#9c9c9c" stroke-width="0.7" />
<path d="M65.10,329.50 l4.2,-1.1 l0,2.2 z" fill="#555" stroke="none" stroke-width="1" />
<path d="M176.20,329.50 l-4.2,-1.1 l0,2.2 z" fill="#555" stroke="none" stroke-width="1" />
<line x1="180.90" y1="329.60" x2="267.00" y2="329.60" stroke="#9c9c9c" stroke-width="0.7" />
<path d="M180.90,329.60 l4.2,-1.1 l0,2.2 z" fill="#555" stroke="none" stroke-width="1" />
<path d="M267.00,329.60 l-4.2,-1.1 l0,2.2 z" fill="#555" stroke="none" stroke-width="1" />
<line x1="212.20" y1="283.20" x2="212.20" y2="347.20" stroke="#9c9c9c" stroke-width="0.7" />
<path d="M212.20,283.20 l-1.1,4.2 l2.2,0 z" fill="#555" stroke="none" stroke-width="1" />
<path d="M212.20,347.20 l-1.1,-4.2 l2.2,0 z" fill="#555" stroke="none" stroke-width="1" />
<line x1="212.20" y1="354.30" x2="212.20" y2="412.40" stroke="#9c9c9c" stroke-width="0.7" />
<path d="M212.20,354.30 l-1.1,4.2 l2.2,0 z" fill="#555" stroke="none" stroke-width="1" />
<path d="M212.20,412.40 l-1.1,-4.2 l2.2,0 z" fill="#555" stroke="none" stroke-width="1" />
<line x1="478.50" y1="235.60" x2="478.50" y2="412.40" stroke="#9c9c9c" stroke-width="0.7" />
<path d="M478.50,235.60 l-1.1,4.2 l2.2,0 z" fill="#555" stroke="none" stroke-width="1" />
<path d="M478.50,412.40 l-1.1,-4.2 l2.2,0 z" fill="#555" stroke="none" stroke-width="1" />
<line x1="478.50" y1="412.40" x2="478.50" y2="508.40" stroke="#9c9c9c" stroke-width="0.7" />
<path d="M478.50,412.40 l-1.1,4.2 l2.2,0 z" fill="#555" stroke="none" stroke-width="1" />
<path d="M478.50,508.40 l-1.1,-4.2 l2.2,0 z" fill="#555" stroke="none" stroke-width="1" />
<line x1="180.90" y1="403.00" x2="271.40" y2="403.00" stroke="#9c9c9c" stroke-width="0.7" />
<path d="M180.90,403.00 l4.2,-1.1 l0,2.2 z" fill="#555" stroke="none" stroke-width="1" />
<path d="M271.40,403.00 l-4.2,-1.1 l0,2.2 z" fill="#555" stroke="none" stroke-width="1" />
<line x1="271.40" y1="403.00" x2="361.80" y2="403.00" stroke="#9c9c9c" stroke-width="0.7" />
<path d="M271.40,403.00 l4.2,-1.1 l0,2.2 z" fill="#555" stroke="none" stroke-width="1" />
<path d="M361.80,403.00 l-4.2,-1.1 l0,2.2 z" fill="#555" stroke="none" stroke-width="1" />
<line x1="361.80" y1="403.00" x2="516.00" y2="403.00" stroke="#9c9c9c" stroke-width="0.7" />
<path d="M361.80,403.00 l4.2,-1.1 l0,2.2 z" fill="#555" stroke="none" stroke-width="1" />
<path d="M516.00,403.00 l-4.2,-1.1 l0,2.2 z" fill="#555" stroke="none" stroke-width="1" />
<line x1="86.80" y1="354.30" x2="86.80" y2="471.80" stroke="#9c9c9c" stroke-width="0.7" />
<path d="M86.80,354.30 l-1.1,4.2 l2.2,0 z" fill="#555" stroke="none" stroke-width="1" />
<path d="M86.80,471.80 l-1.1,-4.2 l2.2,0 z" fill="#555" stroke="none" stroke-width="1" />
<line x1="65.10" y1="462.70" x2="176.00" y2="462.70" stroke="#9c9c9c" stroke-width="0.7" />
<path d="M65.10,462.70 l4.2,-1.1 l0,2.2 z" fill="#555" stroke="none" stroke-width="1" />
<path d="M176.00,462.70 l-4.2,-1.1 l0,2.2 z" fill="#555" stroke="none" stroke-width="1" />
<line x1="180.50" y1="462.70" x2="231.10" y2="462.70" stroke="#9c9c9c" stroke-width="0.7" />
<path d="M180.50,462.70 l4.2,-1.1 l0,2.2 z" fill="#555" stroke="none" stroke-width="1" />
<path d="M231.10,462.70 l-4.2,-1.1 l0,2.2 z" fill="#555" stroke="none" stroke-width="1" />
<line x1="235.70" y1="462.70" x2="314.10" y2="462.70" stroke="#9c9c9c" stroke-width="0.7" />
<path d="M235.70,462.70 l4.2,-1.1 l0,2.2 z" fill="#555" stroke="none" stroke-width="1" />
<path d="M314.10,462.70 l-4.2,-1.1 l0,2.2 z" fill="#555" stroke="none" stroke-width="1" />
<line x1="301.50" y1="417.10" x2="301.50" y2="471.50" stroke="#9c9c9c" stroke-width="0.7" />
<path d="M301.50,417.10 l-1.1,4.2 l2.2,0 z" fill="#555" stroke="none" stroke-width="1" />
<path d="M301.50,471.50 l-1.1,-4.2 l2.2,0 z" fill="#555" stroke="none" stroke-width="1" />
<line x1="319.10" y1="462.70" x2="358.20" y2="462.70" stroke="#9c9c9c" stroke-width="0.7" />
<path d="M319.10,462.70 l4.2,-1.1 l0,2.2 z" fill="#555" stroke="none" stroke-width="1" />
<path d="M358.20,462.70 l-4.2,-1.1 l0,2.2 z" fill="#555" stroke="none" stroke-width="1" />
<line x1="330.10" y1="417.10" x2="330.10" y2="471.30" stroke="#9c9c9c" stroke-width="0.7" />
<path d="M330.10,417.10 l-1.1,4.2 l2.2,0 z" fill="#555" stroke="none" stroke-width="1" />
<path d="M330.10,471.30 l-1.1,-4.2 l2.2,0 z" fill="#555" stroke="none" stroke-width="1" />
<line x1="341.30" y1="483.40" x2="516.20" y2="483.40" stroke="#9c9c9c" stroke-width="0.7" />
<path d="M341.30,483.40 l4.2,-1.1 l0,2.2 z" fill="#555" stroke="none" stroke-width="1" />
<path d="M516.20,483.40 l-4.2,-1.1 l0,2.2 z" fill="#555" stroke="none" stroke-width="1" />
<text transform="translate(115.70,101.30) scale(0.86,1)" font-size="10.3" fill="#6e6e6e" text-anchor="middle" font-weight="normal" dominant-baseline="central">264</text>
<text transform="translate(218.20,105.10) scale(0.86,1)" font-size="10.3" fill="#6e6e6e" text-anchor="middle" font-weight="normal" dominant-baseline="central">297</text>
<text transform="translate(344.60,104.80) scale(0.86,1)" font-size="10.3" fill="#6e6e6e" text-anchor="middle" font-weight="normal" dominant-baseline="central">384</text>
<text transform="translate(78.00,174.50) rotate(-90) scale(0.86,1)" font-size="10.3" fill="#6e6e6e" text-anchor="middle" font-weight="normal" dominant-baseline="central">385</text>
<text transform="translate(240.00,157.00) rotate(-90) scale(0.86,1)" font-size="10.3" fill="#6e6e6e" text-anchor="middle" font-weight="normal" dominant-baseline="central">385</text>
<text transform="translate(382.00,163.40) rotate(-90) scale(0.86,1)" font-size="10.3" fill="#6e6e6e" text-anchor="middle" font-weight="normal" dominant-baseline="central">385</text>
<text transform="translate(285.00,126.60) rotate(-90) scale(0.86,1)" font-size="10.3" fill="#6e6e6e" text-anchor="middle" font-weight="normal" dominant-baseline="central">180</text>
<text transform="translate(290.00,189.50) rotate(-90) scale(0.86,1)" font-size="10.3" fill="#6e6e6e" text-anchor="middle" font-weight="normal" dominant-baseline="central">205</text>
<text transform="translate(206.60,198.30) scale(0.86,1)" font-size="10.3" fill="#6e6e6e" text-anchor="middle" font-weight="normal" dominant-baseline="central">237</text>
<text transform="translate(321.70,196.60) scale(0.86,1)" font-size="10.3" fill="#6e6e6e" text-anchor="middle" font-weight="normal" dominant-baseline="central">444</text>
<text transform="translate(481.80,104.60) scale(0.86,1)" font-size="10.3" fill="#6e6e6e" text-anchor="middle" font-weight="normal" dominant-baseline="central">286</text>
<text transform="translate(451.00,144.00) rotate(-90) scale(0.86,1)" font-size="10.3" fill="#6e6e6e" text-anchor="middle" font-weight="normal" dominant-baseline="central">415</text>
<text transform="translate(492.9,148.7) scale(0.9,1)" font-size="9.8" fill="#666" text-anchor="middle" letter-spacing="0.1">zadaszony</text>
<text transform="translate(493.6,161.6) scale(0.95,1)" font-size="9.8" fill="#666" text-anchor="middle">taras</text>
<text transform="translate(81.00,265.60) scale(0.86,1)" font-size="10.3" fill="#6e6e6e" text-anchor="middle" font-weight="normal" dominant-baseline="central">100</text>
<text transform="translate(149.40,260.50) rotate(-90) scale(0.86,1)" font-size="10.3" fill="#6e6e6e" text-anchor="middle" font-weight="normal" dominant-baseline="central">120</text>
<text transform="translate(189.30,265.60) scale(0.86,1)" font-size="10.3" fill="#6e6e6e" text-anchor="middle" font-weight="normal" dominant-baseline="central">461</text>
<text transform="translate(393.80,265.60) scale(0.86,1)" font-size="10.3" fill="#6e6e6e" text-anchor="middle" font-weight="normal" dominant-baseline="central">677</text>
<text transform="translate(81.70,291.50) rotate(-90) scale(0.86,1)" font-size="10.3" fill="#6e6e6e" text-anchor="middle" font-weight="normal" dominant-baseline="central">311</text>
<text transform="translate(119.60,323.80) scale(0.86,1)" font-size="10.3" fill="#6e6e6e" text-anchor="middle" font-weight="normal" dominant-baseline="central">308</text>
<text transform="translate(149.40,315.40) rotate(-90) scale(0.86,1)" font-size="10.3" fill="#6e6e6e" text-anchor="middle" font-weight="normal" dominant-baseline="central">179</text>
<text transform="translate(207.10,315.20) rotate(-90) scale(0.86,1)" font-size="10.3" fill="#6e6e6e" text-anchor="middle" font-weight="normal" dominant-baseline="central">179</text>
<text transform="translate(223.30,324.20) scale(0.86,1)" font-size="10.3" fill="#6e6e6e" text-anchor="middle" font-weight="normal" dominant-baseline="central">241</text>
<text transform="translate(473.80,324.00) rotate(-90) scale(0.86,1)" font-size="10.3" fill="#6e6e6e" text-anchor="middle" font-weight="normal" dominant-baseline="central">492</text>
<text transform="translate(206.00,384.00) rotate(-90) scale(0.86,1)" font-size="10.3" fill="#6e6e6e" text-anchor="middle" font-weight="normal" dominant-baseline="central">162</text>
<text transform="translate(225.00,397.80) scale(0.86,1)" font-size="10.3" fill="#6e6e6e" text-anchor="middle" font-weight="normal" dominant-baseline="central">253</text>
<text transform="translate(316.00,397.80) scale(0.86,1)" font-size="10.3" fill="#6e6e6e" text-anchor="middle" font-weight="normal" dominant-baseline="central">250</text>
<text transform="translate(439.00,397.80) scale(0.86,1)" font-size="10.3" fill="#6e6e6e" text-anchor="middle" font-weight="normal" dominant-baseline="central">427</text>
<text transform="translate(82.30,413.00) rotate(-90) scale(0.86,1)" font-size="10.3" fill="#6e6e6e" text-anchor="middle" font-weight="normal" dominant-baseline="central">327</text>
<text transform="translate(119.70,456.80) scale(0.86,1)" font-size="10.3" fill="#6e6e6e" text-anchor="middle" font-weight="normal" dominant-baseline="central">308</text>
<text transform="translate(212.20,457.00) scale(0.86,1)" font-size="10.3" fill="#6e6e6e" text-anchor="middle" font-weight="normal" dominant-baseline="central">141</text>
<text transform="translate(274.60,457.00) scale(0.86,1)" font-size="10.3" fill="#6e6e6e" text-anchor="middle" font-weight="normal" dominant-baseline="central">218</text>
<text transform="translate(337.20,456.80) scale(0.86,1)" font-size="10.3" fill="#6e6e6e" text-anchor="middle" font-weight="normal" dominant-baseline="central">108</text>
<text transform="translate(296.50,443.50) rotate(-90) scale(0.86,1)" font-size="10.3" fill="#6e6e6e" text-anchor="middle" font-weight="normal" dominant-baseline="central">156</text>
<text transform="translate(325.10,446.00) rotate(-90) scale(0.86,1)" font-size="10.3" fill="#6e6e6e" text-anchor="middle" font-weight="normal" dominant-baseline="central">153</text>
<text transform="translate(473.40,461.30) rotate(-90) scale(0.86,1)" font-size="10.3" fill="#6e6e6e" text-anchor="middle" font-weight="normal" dominant-baseline="central">265</text>
<text transform="translate(440.30,477.50) scale(0.86,1)" font-size="10.3" fill="#6e6e6e" text-anchor="middle" font-weight="normal" dominant-baseline="central">487</text>
<circle cx="28.70" cy="170.70" r="10.9" fill="#6c6c6c"/>
<g transform="translate(28.20,177.07) scale(13.776,16.400) translate(-0.5705,0)" fill="#fff" stroke="#fff" stroke-width="0.055" stroke-linejoin="round">
<text x="0.000" y="0" font-size="1" font-weight="bold">T</text>
<text x="0.611" y="0" font-size="1" font-weight="bold">2</text>
</g>
<circle cx="601.70" cy="170.40" r="10.9" fill="#6c6c6c"/>
<g transform="translate(601.10,176.77) scale(13.776,16.400) translate(-0.5120,0)" fill="#fff" stroke="#fff" stroke-width="0.055" stroke-linejoin="round">
<text x="0.000" y="0" font-size="1" font-weight="bold">T</text>
<path transform="translate(0.611,0)" d="M0.393,0 H0.255 V-0.518 Q0.18,-0.45 0.078,-0.415 V-0.540 Q0.132,-0.557 0.195,-0.607 Q0.258,-0.657 0.281,-0.723 H0.393 Z"/>
</g>
<circle cx="115.40" cy="170.30" r="11" fill="#6c6c6c"/>
<g transform="translate(115.40,176.39) scale(16.490,17.000) translate(-0.5135,0)" fill="#fff" stroke="#fff" stroke-width="0.04" stroke-linejoin="round">
<path transform="translate(0.000,0)" d="M0.393,0 H0.255 V-0.518 Q0.18,-0.45 0.078,-0.415 V-0.540 Q0.132,-0.557 0.195,-0.607 Q0.258,-0.657 0.281,-0.723 H0.393 Z"/>
<path transform="translate(0.556,0)" d="M0.393,0 H0.255 V-0.518 Q0.18,-0.45 0.078,-0.415 V-0.540 Q0.132,-0.557 0.195,-0.607 Q0.258,-0.657 0.281,-0.723 H0.393 Z"/>
</g>
<circle cx="215.20" cy="170.40" r="11" fill="#6c6c6c"/>
<g transform="translate(215.20,176.49) scale(14.960,17.000) translate(-0.5745,0)" fill="#fff" stroke="#fff" stroke-width="0.04" stroke-linejoin="round">
<path transform="translate(0.000,0)" d="M0.393,0 H0.255 V-0.518 Q0.18,-0.45 0.078,-0.415 V-0.540 Q0.132,-0.557 0.195,-0.607 Q0.258,-0.657 0.281,-0.723 H0.393 Z"/>
<text x="0.556" y="0" font-size="1" font-weight="bold">0</text>
</g>
<circle cx="313.70" cy="170.40" r="11" fill="#6c6c6c"/>
<g transform="translate(313.70,176.49) scale(17.000,17.000) translate(-0.2750,0)" fill="#fff" stroke="#fff" stroke-width="0.04" stroke-linejoin="round">
<text x="0.000" y="0" font-size="1" font-weight="bold">9</text>
</g>
<circle cx="170.70" cy="258.00" r="11" fill="#6c6c6c"/>
<g transform="translate(170.70,264.09) scale(17.000,17.000) translate(-0.2775,0)" fill="#fff" stroke="#fff" stroke-width="0.04" stroke-linejoin="round">
<text x="0.000" y="0" font-size="1" font-weight="bold">8</text>
</g>
<circle cx="104.70" cy="306.70" r="11" fill="#6c6c6c"/>
<g transform="translate(104.70,312.79) scale(14.960,17.000) translate(-0.5720,0)" fill="#fff" stroke="#fff" stroke-width="0.04" stroke-linejoin="round">
<path transform="translate(0.000,0)" d="M0.393,0 H0.255 V-0.518 Q0.18,-0.45 0.078,-0.415 V-0.540 Q0.132,-0.557 0.195,-0.607 Q0.258,-0.657 0.281,-0.723 H0.393 Z"/>
<text x="0.556" y="0" font-size="1" font-weight="bold">2</text>
</g>
<circle cx="224.70" cy="307.20" r="11" fill="#6c6c6c"/>
<g transform="translate(224.70,313.29) scale(14.960,17.000) translate(-0.5745,0)" fill="#fff" stroke="#fff" stroke-width="0.04" stroke-linejoin="round">
<path transform="translate(0.000,0)" d="M0.393,0 H0.255 V-0.518 Q0.18,-0.45 0.078,-0.415 V-0.540 Q0.132,-0.557 0.195,-0.607 Q0.258,-0.657 0.281,-0.723 H0.393 Z"/>
<text x="0.556" y="0" font-size="1" font-weight="bold">3</text>
</g>
<circle cx="419.20" cy="307.20" r="11" fill="#6c6c6c"/>
<g transform="translate(419.20,313.29) scale(17.000,17.000) translate(-0.2775,0)" fill="#fff" stroke="#fff" stroke-width="0.04" stroke-linejoin="round">
<text x="0.000" y="0" font-size="1" font-weight="bold">7</text>
</g>
<circle cx="121.50" cy="389.60" r="11" fill="#6c6c6c"/>
<g transform="translate(121.50,395.69) scale(17.000,17.000) translate(-0.2725,0)" fill="#fff" stroke="#fff" stroke-width="0.04" stroke-linejoin="round">
<text x="0.000" y="0" font-size="1" font-weight="bold">3</text>
</g>
<circle cx="251.50" cy="389.20" r="11" fill="#6c6c6c"/>
<g transform="translate(251.50,395.29) scale(17.000,17.000) translate(-0.2680,0)" fill="#fff" stroke="#fff" stroke-width="0.04" stroke-linejoin="round">
<text x="0.000" y="0" font-size="1" font-weight="bold">2</text>
</g>
<circle cx="212.80" cy="432.40" r="11" fill="#6c6c6c"/>
<g transform="translate(212.80,438.49) scale(17.000,17.000) translate(-0.2750,0)" fill="#fff" stroke="#fff" stroke-width="0.04" stroke-linejoin="round">
<text x="0.000" y="0" font-size="1" font-weight="bold">4</text>
</g>
<circle cx="275.50" cy="440.30" r="11" fill="#6c6c6c"/>
<g transform="translate(275.50,446.39) scale(17.000,17.000) translate(-0.2355,0)" fill="#fff" stroke="#fff" stroke-width="0.04" stroke-linejoin="round">
<path transform="translate(0.000,0)" d="M0.393,0 H0.255 V-0.518 Q0.18,-0.45 0.078,-0.415 V-0.540 Q0.132,-0.557 0.195,-0.607 Q0.258,-0.657 0.281,-0.723 H0.393 Z"/>
</g>
<circle cx="343.30" cy="440.40" r="11" fill="#6c6c6c"/>
<g transform="translate(343.30,446.49) scale(17.000,17.000) translate(-0.2800,0)" fill="#fff" stroke="#fff" stroke-width="0.04" stroke-linejoin="round">
<text x="0.000" y="0" font-size="1" font-weight="bold">6</text>
</g>
<circle cx="419.20" cy="463.40" r="11" fill="#6c6c6c"/>
<g transform="translate(419.20,469.49) scale(17.000,17.000) translate(-0.2800,0)" fill="#fff" stroke="#fff" stroke-width="0.04" stroke-linejoin="round">
<text x="0.000" y="0" font-size="1" font-weight="bold">5</text>
</g>
<path d="M283,550.8 L319.3,550.8 L301.1,532.8 Z" fill="#757575" stroke="none" stroke-width="1" />
<rect x="283.50" y="4.80" width="16.60" height="3.00" fill="#000" />
<line x1="299.60" y1="6.00" x2="299.60" y2="26.30" stroke="#333" stroke-width="0.9" />
<text transform="translate(292.30,15.10) rotate(-90) scale(0.78,1)" font-size="15" fill="#222" text-anchor="middle" font-weight="normal" dominant-baseline="central">A</text>
<rect x="283.50" y="590.70" width="16.60" height="3.00" fill="#000" />
<line x1="299.60" y1="571.40" x2="299.60" y2="592.00" stroke="#333" stroke-width="0.9" />
<text transform="translate(292.30,579.10) rotate(-90) scale(0.78,1)" font-size="15" fill="#222" text-anchor="middle" font-weight="normal" dominant-baseline="central">A</text>
</svg></body></html>
